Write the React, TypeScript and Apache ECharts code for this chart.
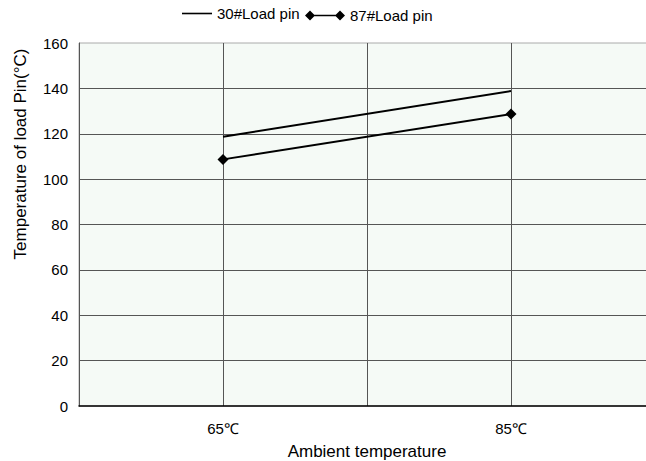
import React, { useEffect, useRef } from "react";
import * as echarts from "echarts";

const categories = ["65℃", "85℃"];
const series30 = [118.7, 138.8];
const series87 = [108.7, 128.7];
const seriesNames = ["30#Load pin", "87#Load pin"];
const yTicks = { min: 0, max: 160, interval: 20 };
const xGrid = { min: 0, max: 4, interval: 1 };

const FONT = "Liberation Sans, Arial, sans-serif";
const lineIcon = "path://M0,0 M0,6.2H30V7.8H0Z M30,14";
const diamondLineIcon =
  "path://M0,5L5,0L10,5L5,10Z M8,4.2H32V5.8H8Z M30,5L35,0L40,5L35,10Z";

export default function App() {
  const ref = useRef<HTMLDivElement>(null);
  useEffect(() => {
    if (!ref.current) return;
    const chart = echarts.init(ref.current, undefined, { renderer: "svg" });
    chart.setOption({
      animation: false,
      textStyle: { fontFamily: FONT, color: "#000" },
      legend: [
        {
          data: [{ name: seriesNames[0], icon: lineIcon }],
          left: 182,
          top: 6,
          padding: 0,
          itemWidth: 30,
          itemHeight: 14,
          itemStyle: { color: "#000" },
          textStyle: { fontSize: 15, color: "#000", fontFamily: FONT },
        },
        {
          data: [{ name: seriesNames[1], icon: diamondLineIcon }],
          left: 305,
          top: 8,
          padding: 0,
          itemWidth: 40,
          itemHeight: 10,
          itemStyle: { color: "#000" },
          textStyle: { fontSize: 15, color: "#000", fontFamily: FONT },
        },
      ],
      grid: {
        left: 79,
        top: 43,
        right: -9,
        bottom: 55,
        containLabel: false,
        outerBoundsMode: "none",
        show: true,
        backgroundColor: "#f5faf6",
        borderColor: "#aaaaaa",
        borderWidth: 1,
      },
      graphic: [
        {
          type: "text",
          x: 20,
          y: 154,
          rotation: Math.PI / 2,
          style: {
            text: "Temperature of load Pin(°C)",
            fontSize: 17,
            fontFamily: FONT,
            fill: "#000",
            textAlign: "center",
            textVerticalAlign: "middle",
          },
        },
      ],
      xAxis: [
        {
          type: "category",
          data: categories,
          boundaryGap: true,
          position: "bottom",
          axisLine: { show: true, lineStyle: { color: "#000", width: 1.5 } },
          axisTick: { show: false },
          splitLine: { show: false },
          axisLabel: { fontSize: 15, color: "#000", margin: 15, fontFamily: FONT },
          name: "Ambient temperature",
          nameLocation: "middle",
          nameGap: 37,
          nameTextStyle: { fontSize: 17, color: "#000", fontFamily: FONT },
        },
        {
          type: "value",
          min: xGrid.min,
          max: xGrid.max,
          interval: xGrid.interval,
          position: "top",
          axisLine: { show: false },
          axisTick: { show: false },
          axisLabel: { show: false },
          splitLine: {
            show: true,
            showMinLine: false,
            showMaxLine: false,
            lineStyle: { color: "#555", width: 1 },
          },
        },
      ],
      yAxis: {
        type: "value",
        min: yTicks.min,
        max: yTicks.max,
        interval: yTicks.interval,
        axisLine: { show: true, lineStyle: { color: "#555", width: 1 } },
        axisTick: { show: false },
        axisLabel: { fontSize: 15, color: "#000", margin: 11, fontFamily: FONT },
        splitLine: {
          show: true,
          showMinLine: false,
          showMaxLine: false,
          lineStyle: { color: "#555", width: 1 },
        },
      },
      series: [
        {
          name: seriesNames[0],
          type: "line",
          xAxisIndex: 0,
          data: series30,
          symbol: "none",
          lineStyle: { color: "#000", width: 2 },
          itemStyle: { color: "#000" },
        },
        {
          name: seriesNames[1],
          type: "line",
          xAxisIndex: 0,
          data: series87,
          symbol: "diamond",
          symbolSize: 11,
          lineStyle: { color: "#000", width: 2 },
          itemStyle: { color: "#000" },
        },
      ],
    });
    return () => chart.dispose();
  }, []);
  return (
    <div
      ref={ref}
      style={{ position: "absolute", left: 0, top: 0, width: 646, height: 461 }}
    />
  );
}
